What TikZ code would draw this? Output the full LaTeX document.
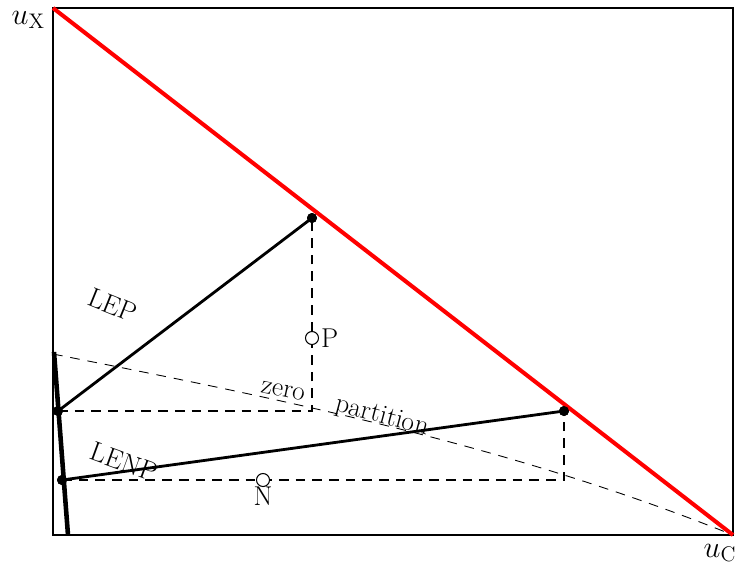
\documentclass[tikz,border=0pt]{standalone}
\usepackage{fontspec}
\begin{document}
\begin{tikzpicture}[x=0.02cm,y=-0.02cm,
  lbl/.style={font=\fontsize{15.5}{18}\selectfont, inner sep=1pt},
  axlbl/.style={font=\fontsize{17.28}{20}\selectfont, inner sep=1pt},
  dot/.style={circle, fill=black, inner sep=0pt, minimum size=10*0.02cm},
  odot/.style={circle, draw=black, fill=white, line width=0.6pt, inner sep=0pt, minimum size=13*0.02cm},
  thickline/.style={line width=1.6pt},
  dsh/.style={line width=0.8pt, dash pattern=on 5.5pt off 4pt},
  thindsh/.style={line width=0.5pt, dash pattern=on 5.5pt off 4.5pt}]
\useasboundingbox (0,0) rectangle (739,569);
% frame
\coordinate (ux) at (53,8);
\coordinate (uc) at (733,535);
\draw[line width=0.85pt] (53,8) rectangle (733,535);
% zero partition dashed curve
\coordinate (z1) at (53,354);
\coordinate (z2) at (733,535);
\draw[thindsh] (z1) .. controls (280,399) and (506,444) .. (z2);
% corner points
\node[dot] (A) at (58,411) {};
\node[dot] (B) at (312,218) {};
\node[dot] (C) at (564,411) {};
\node[dot] (D) at (62,480) {};
\coordinate (AB) at (312,411);
\coordinate (DC) at (564,480);
% dashed projections
\draw[dsh] (A.center) -- (AB) -- (B.center);
\draw[dsh] (D.center) -- (DC) -- (C.center);
% red line
\draw[red, line width=2.3pt] (ux) -- (uc);
% thick near-vertical line
\coordinate (t1) at (54,352);
\coordinate (t2) at (68,535);
\draw[line width=2.6pt] (t1) -- (t2);
% LEP and LENP
\draw[thickline] (A.center) -- (B.center);
\draw[thickline] (D.center) -- (C.center);
\node[dot] at (A) {};
\node[dot] at (B) {};
\node[dot] at (C) {};
\node[dot] at (D) {};
% P and N
\node[odot] (P) at (312,338) {};
\node[lbl, anchor=west] (Pl) at (P.east) {P};
\node[odot] (N) at (263,480) {};
\node[lbl, anchor=north, inner sep=0pt] (Nl) at (N.south) {N};
% labels
\node[lbl, rotate=-22] (lep) at (113,305) {LEP};
\node[lbl, rotate=-20] (lenp) at (124,462) {LENP};
\node[lbl, rotate=-12] (zero) at (283,391) {zero};
\node[lbl, rotate=-15] (part) at (382,417) {partition};
\node[axlbl, anchor=east] (uxl) at (47,20) {$u_{\mathrm{X}}$};
\node[axlbl] (ucl) at (720,553) {$u_{\mathrm{C}}$};
\end{tikzpicture}
\end{document}
